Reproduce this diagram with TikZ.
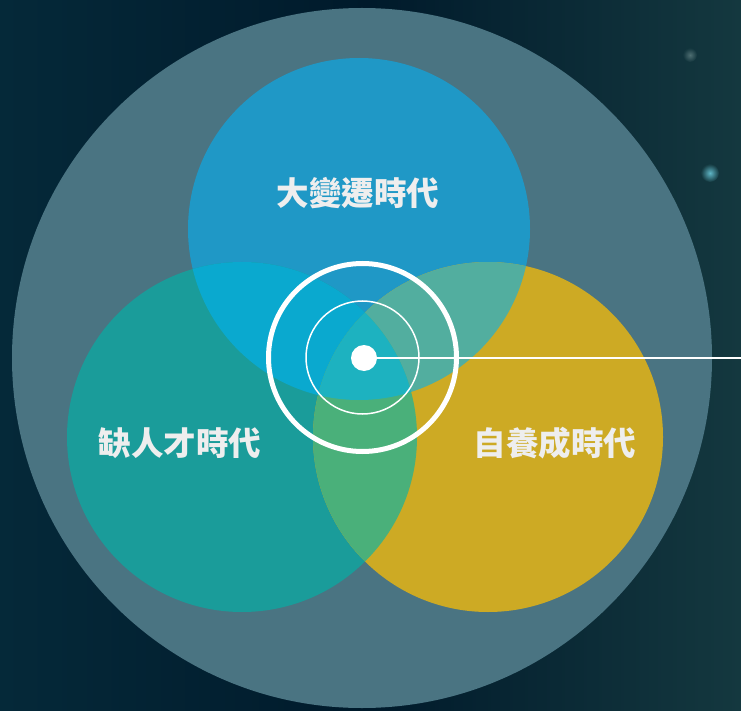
\documentclass[tikz,border=0pt]{standalone}
\usepackage{fontspec}
\newfontfamily\cjk{Noto Sans CJK TC}
\usetikzlibrary{backgrounds}
\definecolor{bgleft}{HTML}{052939}
\definecolor{bgdark}{HTML}{001A2B}
\definecolor{bgright}{HTML}{14383F}
\definecolor{outer}{HTML}{4A7482}
\definecolor{topblue}{HTML}{1F98C6}
\definecolor{leftteal}{HTML}{1A9C9A}
\definecolor{rightgold}{HTML}{CDAA24}
\definecolor{tl}{HTML}{0AA9CF}
\definecolor{tr}{HTML}{52AE9F}
\definecolor{lr}{HTML}{4AB07A}
\definecolor{mid}{HTML}{1DB2C0}
\definecolor{label}{HTML}{EEEEEE}
\definecolor{glowa}{HTML}{4E6E72}
\definecolor{glowb}{HTML}{5FB6C6}
\begin{document}
\begin{tikzpicture}[x=1pt,y=-1pt]
\tikzstyle{every node}=[inner sep=0pt]
\tikzstyle{era}=[text=label,font=\cjk\bfseries\fontsize{32.5}{32.5}\selectfont]
\tikzstyle{ring}=[draw=white,circle]
\useasboundingbox (0,0) rectangle (741,711);
\shade[left color=bgleft,right color=bgdark] (0,0) rectangle (370,711);
\shade[left color=bgdark,right color=bgright] (370,0) rectangle (741,711);
\shade[inner color=glowa,outer color=bgright!90!bgdark] (690,55) circle (7);
\shade[inner color=glowb,outer color=bgright] (710,173) circle (9);
% the three circles in the big one
\fill[outer] (362,358) circle (350);
\fill[topblue] (359,229) circle (171);
\fill[leftteal] (242,437) circle (175);
\fill[rightgold] (488,437) circle (175);
\begin{scope}
\clip (359,229) circle (171);
\fill[tl] (242,437) circle (175);
\fill[tr] (488,437) circle (175);
\end{scope}
\begin{scope}
\clip (242,437) circle (175);
\fill[lr] (488,437) circle (175);
\clip (488,437) circle (175);
\fill[mid] (359,229) circle (171);
\end{scope}
% target
\node[ring,line width=5pt,minimum size=188pt] (outring) at (362.5,357.5) {};
\node[ring,line width=1.5pt,minimum size=113pt] (inring) at (362.5,357.5) {};
\node[circle,fill=white,minimum size=26pt] (dot) at (364,358) {};
\coordinate (lineend) at (741,358);
\draw[white,line width=2pt] (dot.center) -- (lineend);
\node[era] (change) at (358,193) {大變遷時代};
\node[era] (lack) at (180,443) {缺人才時代};
\node[era] (self) at (555,443) {自養成時代};
\end{tikzpicture}
\end{document}
